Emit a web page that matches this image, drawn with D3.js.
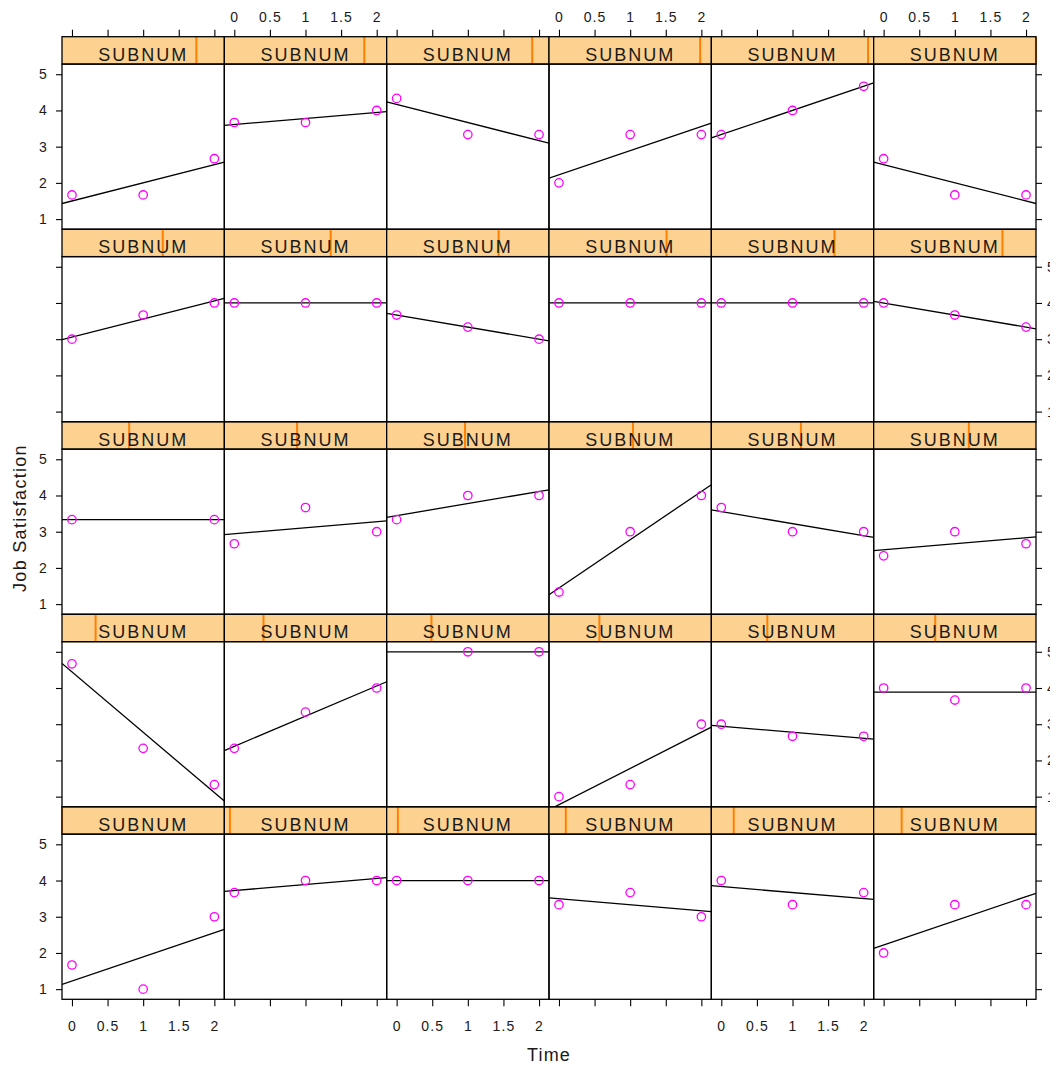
<!DOCTYPE html>
<html>
<head>
<meta charset="utf-8">
<script src="https://cdn.jsdelivr.net/npm/d3@7"></script>
<style>
  body { margin: 0; background: #fff; }
  svg text { font-family: "Liberation Sans", Arial, sans-serif; fill: #1a1a1a; }
</style>
</head>
<body>
<div id="chart"></div>
<script>
// SUBNUM levels 1..30, job satisfaction at Time 0, 1, 2 (null = missing)
const subnum = [1, 2, 3, 4, 5, 6, 7, 8, 9, 10, 11, 12, 13, 14, 15,
  16, 17, 18, 19, 20, 21, 22, 23, 24, 25, 26, 27, 28, 29, 30];
const times = [0, 1, 2];
const time0 = [1.667, 3.667, 4, 3.333, 4, 2, 4.667, 2.333, null, 1, 3, 4, 3.333, 2.667, 3.333,
  1.333, 3.667, 2.333, 3, 4, 3.667, 4, 4, 4, 1.667, 3.667, 4.333, 2, 3.333, 2.667];
const time1 = [1, 4, 4, 3.667, 3.333, 3.333, 2.333, 3.333, 5, 1.333, 2.667, 3.667, null, 3.667, 4,
  3, 3, 3, 3.667, 4, 3.333, 4, 4, 3.667, 1.667, 3.667, 3.333, 3.333, 4, 1.667];
const time2 = [3, 4, 4, 3, 3.667, 3.333, 1.333, 4, 5, 3, 2.667, 4, 3.333, 3, 4,
  4, 3, 2.667, 4, 4, 3, 4, 4, 3.333, 2.667, 4, 3.333, 3.333, 4.667, 1.667];
const xTicks = [0, 0.5, 1, 1.5, 2];
const yTicks = [1, 2, 3, 4, 5];

const width = 1050,
  height = 1066,
  grid = { left: 62, right: 1036, top: 36.7, bottom: 999.3 },
  nCol = 6,
  nRow = 5,
  colW = (grid.right - grid.left) / nCol,
  rowH = (grid.bottom - grid.top) / nRow,
  stripH = 27.4,
  panelH = rowH - stripH;

const xScale = d3.scaleLinear().domain([-0.14, 2.14]).range([0, colW]);
const yScale = d3.scaleLinear().domain([0.72, 5.28]).range([panelH, 0]);
const stripPos = d3.scaleLinear().domain([1, subnum.length]).range([0, colW]);

const svg = d3.select("#chart").append("svg")
  .attr("width", width)
  .attr("height", height);

svg.append("defs").append("clipPath")
  .attr("id", "panel-clip")
  .append("rect")
  .attr("width", colW)
  .attr("height", panelH);

const panels = subnum.map((s, i) => {
  const pts = times
    .map((t, k) => ({ t: t, v: [time0, time1, time2][k][i] }))
    .filter(d => d.v !== null);
  // least squares fit
  const mx = d3.mean(pts, d => d.t), my = d3.mean(pts, d => d.v);
  const sxx = d3.sum(pts, d => (d.t - mx) ** 2);
  const sxy = d3.sum(pts, d => (d.t - mx) * (d.v - my));
  const b = sxx ? sxy / sxx : 0;
  return {
    subnum: s,
    col: i % nCol,
    row: nRow - 1 - Math.floor(i / nCol),
    pts: pts,
    a: my - b * mx,
    b: b
  };
});

const cell = svg.selectAll(".cell")
  .data(panels)
  .join("g")
  .attr("class", "cell")
  .attr("transform", d => `translate(${grid.left + d.col * colW},${grid.top + d.row * rowH})`);

// strips
cell.append("rect")
  .attr("width", colW)
  .attr("height", stripH)
  .attr("fill", "#fdd291");

cell.append("line")
  .attr("x1", d => stripPos(d.subnum))
  .attr("x2", d => stripPos(d.subnum))
  .attr("y1", 0)
  .attr("y2", stripH)
  .attr("stroke", "#ff7f00")
  .attr("stroke-width", 2);

cell.append("text")
  .attr("x", colW / 2)
  .attr("y", 24)
  .attr("text-anchor", "middle")
  .attr("font-size", 18)
  .attr("letter-spacing", 2)
  .text("SUBNUM");

cell.append("rect")
  .attr("width", colW)
  .attr("height", stripH)
  .attr("fill", "none")
  .attr("stroke", "#000")
  .attr("stroke-width", 1.3);

// panels
const panel = cell.append("g")
  .attr("class", "panel")
  .attr("transform", `translate(0,${stripH})`);

panel.append("g")
  .attr("clip-path", "url(#panel-clip)")
  .append("line")
  .attr("x1", xScale(xScale.domain()[0]))
  .attr("x2", xScale(xScale.domain()[1]))
  .attr("y1", d => yScale(d.a + d.b * xScale.domain()[0]))
  .attr("y2", d => yScale(d.a + d.b * xScale.domain()[1]))
  .attr("stroke", "#000")
  .attr("stroke-width", 1.3);

panel.selectAll("circle")
  .data(d => d.pts)
  .join("circle")
  .attr("cx", d => xScale(d.t))
  .attr("cy", d => yScale(d.v))
  .attr("r", 4.2)
  .attr("fill", "none")
  .attr("stroke", "#ff00ff")
  .attr("stroke-width", 1.3);

panel.append("rect")
  .attr("width", colW)
  .attr("height", panelH)
  .attr("fill", "none")
  .attr("stroke", "#000")
  .attr("stroke-width", 1.3);

// axes, alternating labels like lattice
function styleAxis(g) {
  g.select(".domain").remove();
  g.selectAll(".tick line").attr("stroke", "#000").attr("stroke-width", 1.1);
  g.selectAll(".tick text")
    .attr("font-size", 14)
    .attr("letter-spacing", 1.1)
    .style("font-family", '"Liberation Sans", Arial, sans-serif')
    .attr("fill", "#1a1a1a");
}

panels.forEach(p => {
  const x0 = grid.left + p.col * colW;
  const yTop = grid.top + p.row * rowH + stripH;
  if (p.row === 0) {
    svg.append("g")
      .attr("transform", `translate(${x0},${grid.top})`)
      .call(d3.axisTop(xScale).tickValues(xTicks).tickSize(7).tickPadding(8)
        .tickFormat(p.col % 2 === 1 ? d3.format("") : () => ""))
      .call(styleAxis);
  }
  if (p.row === nRow - 1) {
    svg.append("g")
      .attr("transform", `translate(${x0},${grid.bottom})`)
      .call(d3.axisBottom(xScale).tickValues(xTicks).tickSize(7).tickPadding(15)
        .tickFormat(p.col % 2 === 0 ? d3.format("") : () => ""))
      .call(styleAxis);
  }
  if (p.col === 0) {
    svg.append("g")
      .attr("transform", `translate(${grid.left},${yTop})`)
      .call(d3.axisLeft(yScale).tickValues(yTicks).tickSize(6).tickPadding(8)
        .tickFormat(p.row % 2 === 0 ? d3.format("") : () => ""))
      .call(styleAxis);
  }
  if (p.col === nCol - 1) {
    svg.append("g")
      .attr("transform", `translate(${grid.right},${yTop})`)
      .call(d3.axisRight(yScale).tickValues(yTicks).tickSize(6).tickPadding(5)
        .tickFormat(p.row % 2 === 1 ? d3.format("") : () => ""))
      .call(styleAxis);
  }
});

svg.append("text")
  .attr("x", (grid.left + grid.right) / 2)
  .attr("y", 1061)
  .attr("text-anchor", "middle")
  .attr("font-size", 18)
  .attr("letter-spacing", 1.2)
  .text("Time");

svg.append("text")
  .attr("transform", `translate(26,${(grid.top + grid.bottom) / 2}) rotate(-90)`)
  .attr("text-anchor", "middle")
  .attr("font-size", 18)
  .attr("letter-spacing", 1.3)
  .text("Job Satisfaction");
</script>
</body>
</html>
